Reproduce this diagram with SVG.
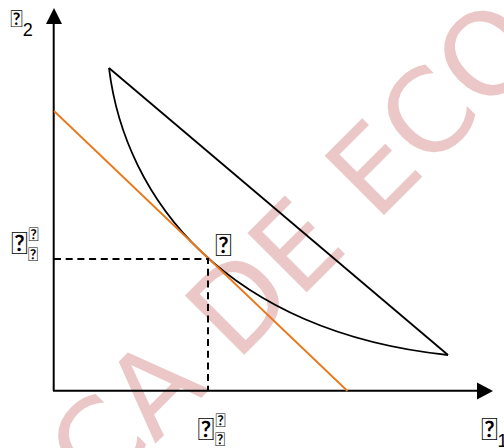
<svg xmlns="http://www.w3.org/2000/svg" width="504" height="448" viewBox="0 0 504 448">
<style>
.ax{stroke:#000;stroke-width:2;fill:none}
.ln{stroke:#000;stroke-width:1.8;fill:none}
.bud{stroke:#e8781a;stroke-width:1.8;fill:none}
.dash{stroke:#000;stroke-width:2;fill:none;stroke-dasharray:7 4.7}
.lbl{font-family:"Liberation Sans",Arial,sans-serif;fill:#000}
.tf{font-family:Lato,sans-serif}
.wm{font-family:"DejaVu Sans",sans-serif;font-size:115px;fill:#ebc7c7}
</style>
<rect width="504" height="448" fill="#fff"/>
<text class="wm" x="0" y="0" transform="translate(98,501) rotate(-45)">CA DE ECO</text>
<g id="axes">
<line class="ax" x1="53.7" y1="391" x2="53.7" y2="22"/>
<polygon points="54,8 46,24 62,24" fill="#000"/>
<line class="ax" x1="53" y1="390.8" x2="479" y2="390.8"/>
<polygon points="493,391 477,382.5 477,399.5" fill="#000"/>
</g>
<g id="curves">
<path class="ln" d="M109,68 L448,355"/>
<path class="ln" d="M109,68 C125,200 228,332 448,355"/>
<path class="bud" d="M54,111 L347.5,391"/>
<path class="dash" d="M54,259 H208 V390"/>
</g>
<g id="labels">
<text class="lbl" x="10.5" y="26.5" font-size="18"><tspan class="tf" font-size="23">&#xE000;</tspan><tspan y="36">2</tspan></text>
<text class="lbl tf" x="11" y="253.5" font-size="31">&#xE000;</text>
<text class="lbl tf" x="28.5" y="241" font-size="19">&#xE001;</text>
<text class="lbl tf" x="28" y="261" font-size="19">&#xE002;</text>
<text class="lbl tf" x="215" y="255.5" font-size="31">&#xE001;</text>
<text class="lbl tf" x="197.5" y="439.5" font-size="31">&#xE000;</text>
<text class="lbl tf" x="215.5" y="427" font-size="19">&#xE001;</text>
<text class="lbl tf" x="215" y="446" font-size="19">&#xE002;</text>
<text class="lbl" x="481" y="439.5" font-size="18"><tspan class="tf" font-size="31">&#xE000;</tspan><tspan y="447">1</tspan></text>
</g>
</svg>
